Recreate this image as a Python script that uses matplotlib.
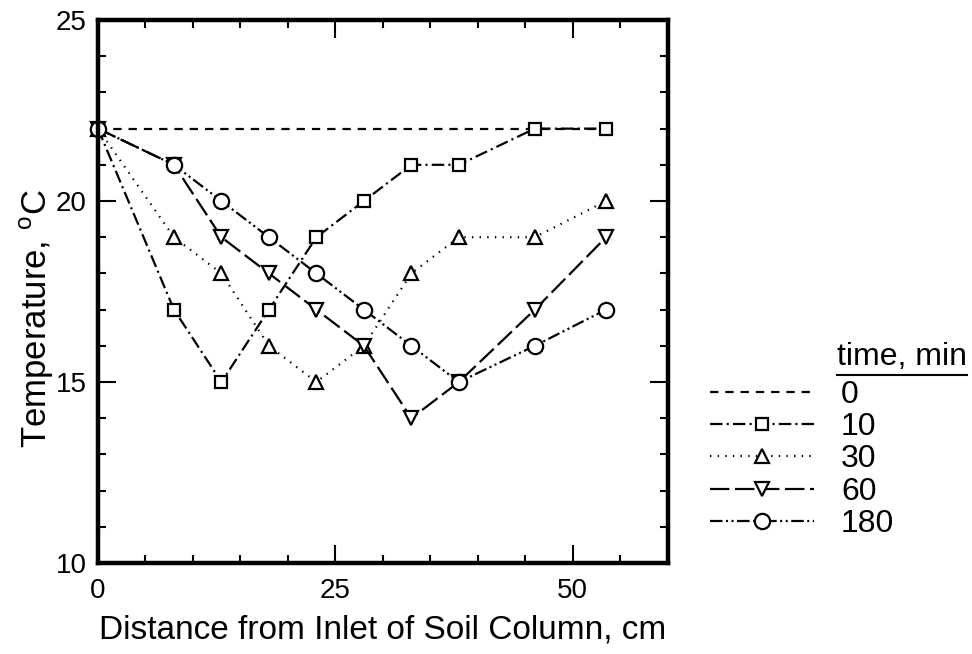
import matplotlib
matplotlib.use("Agg")
import matplotlib.pyplot as plt
from matplotlib.lines import Line2D
from matplotlib.ticker import MultipleLocator

plt.rcParams['font.family'] = ['Liberation Sans', 'DejaVu Sans']
plt.rcParams['mathtext.fontset'] = 'custom'
plt.rcParams['mathtext.rm'] = 'Liberation Sans'
plt.rcParams['lines.scale_dashes'] = False

# distance from inlet, cm
distance = [0, 8, 13, 18, 23, 28, 33, 38, 46, 53.5]

# temperature, deg C, for each elapsed time
temp_0 = [22, 22, 22, 22, 22, 22, 22, 22, 22, 22]
temp_10 = [22, 17, 15, 17, 19, 20, 21, 21, 22, 22]
temp_30 = [22, 19, 18, 16, 15, 16, 18, 19, 19, 20]
temp_60 = [22, 21, 19, 18, 17, 16, 14, 15, 17, 19]
temp_180 = [22, 21, 20, 19, 18, 17, 16, 15, 16, 17]

labels = ['0', '10', '30', '60', '180']

fig = plt.figure(figsize=(9.72, 6.54), dpi=100)
ax = fig.add_axes([0.1008, 0.1391, 0.5862, 0.8303])

lw = 1.6
common = dict(color='black', lw=lw, markerfacecolor='white',
              markeredgecolor='black', markeredgewidth=1.6, clip_on=False)

ax.plot(distance, temp_0, ls=(0, (6, 5)), label=labels[0], **common)
ax.plot(distance, temp_10, ls=(0, (9, 3, 1.5, 3)), marker='s', ms=8.5,
        label=labels[1], **common)
ax.plot(distance, temp_30, ls=(0, (1, 4.5)), marker='^', ms=9.5,
        label=labels[2], **common)
ax.plot(distance, temp_60, ls=(0, (14, 4)), marker='v', ms=9.5,
        label=labels[3], **common)
ax.plot(distance, temp_180, ls=(0, (9, 2.5, 1.5, 2.5, 1.5, 2.5)), marker='o',
        ms=11, label=labels[4], **common)

ax.set_xlim(0, 60)
ax.set_ylim(10, 25)
ax.xaxis.set_major_locator(MultipleLocator(25))
ax.xaxis.set_minor_locator(MultipleLocator(5))
ax.yaxis.set_major_locator(MultipleLocator(5))
ax.yaxis.set_minor_locator(MultipleLocator(1))
ax.tick_params(which='both', direction='in', top=True, right=True, width=1.5)
ax.tick_params(which='major', length=13, labelsize=20)
ax.tick_params(which='minor', length=6)
ax.tick_params(axis='x', which='major', pad=11)
ax.tick_params(axis='y', which='major', pad=8)
for s in ax.spines.values():
    s.set_linewidth(3.2)

ax.set_xlabel('Distance from Inlet of Soil Column, cm', fontsize=24, labelpad=7)
ax.set_ylabel(r'Temperature, $^{\mathrm{o}}$C', fontsize=25)
ax.yaxis.set_label_coords(-0.074, 0.45)

leg = ax.legend(loc='upper left', bbox_to_anchor=(710 / 972, 1 - 380 / 654),
                bbox_transform=fig.transFigure, frameon=False, fontsize=23,
                handlelength=3.25, handletextpad=0.85, labelspacing=0.07,
                borderpad=0, borderaxespad=0)

title = fig.text(967 / 972, 1 - 357 / 654, 'time, min', fontsize=23,
                 ha='right', va='center')
fig.canvas.draw()
bb = title.get_window_extent().transformed(fig.transFigure.inverted())
fig.add_artist(Line2D([bb.x0, bb.x1], [bb.y0 - 0.004, bb.y0 - 0.004],
                      color='black', lw=1.5, transform=fig.transFigure))

fig.savefig('out.png', dpi=100)
